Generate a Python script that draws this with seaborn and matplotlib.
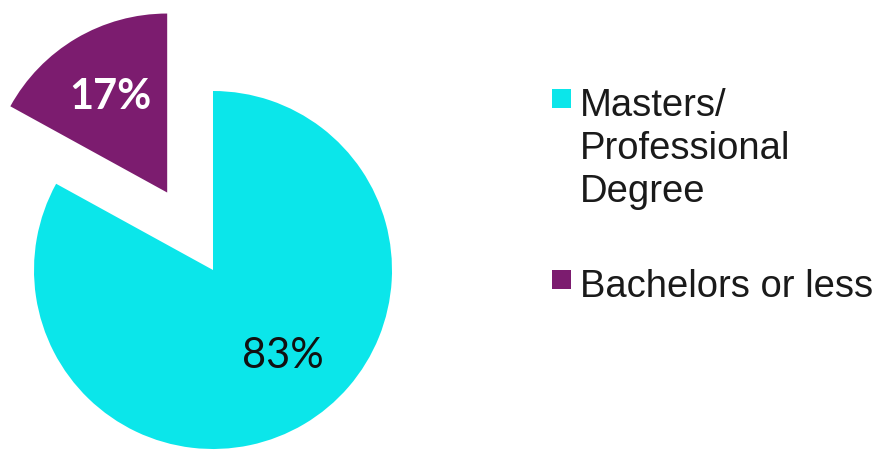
import matplotlib
matplotlib.use("Agg")
import matplotlib.pyplot as plt
import seaborn as sns
from matplotlib.patches import Rectangle

# data
labels = ["Masters/\nProfessional\nDegree", "Bachelors or less"]
shares = [83, 17]
colors = ["#0BE6EA", "#7C1C6F"]

sns.set_theme(style="white")
plt.rcParams['font.family'] = ['Liberation Sans', 'DejaVu Sans']

fig = plt.figure(figsize=(8.81, 4.5), dpi=100)
ax = fig.add_axes([0, 0, 1, 1])

# axes in pixel-like units, pie is partly cut off at the bottom
wedges, texts, autotexts = ax.pie(
    shares, colors=colors, startangle=90, counterclock=False,
    center=(213, 180), radius=179, explode=[0, 90],
    autopct='%d%%', pctdistance=0.62,
    wedgeprops=dict(linewidth=0),
    textprops=dict(fontfamily=['Lato', 'DejaVu Sans'], fontsize=30))

autotexts[0].set_color('#111111')
autotexts[0].set_position((283, 450 - 356))
autotexts[1].set_color('white')
autotexts[1].set_fontweight('bold')

ax.set_xlim(0, 881)
ax.set_ylim(0, 450)
ax.axis('off')

# legend drawn by hand so the squares sit on the first line
legend_tops = [89, 270]
for lab, col, top in zip(labels, colors, legend_tops):
    ax.add_patch(Rectangle((552, 450 - top - 19), 19, 19, color=col, lw=0))
    ax.text(580, 450 - top + 1, lab, va='top', ha='left', fontsize=27.5,
            linespacing=1.25, color='#1a1a1a')

fig.savefig('out.png', dpi=100)
